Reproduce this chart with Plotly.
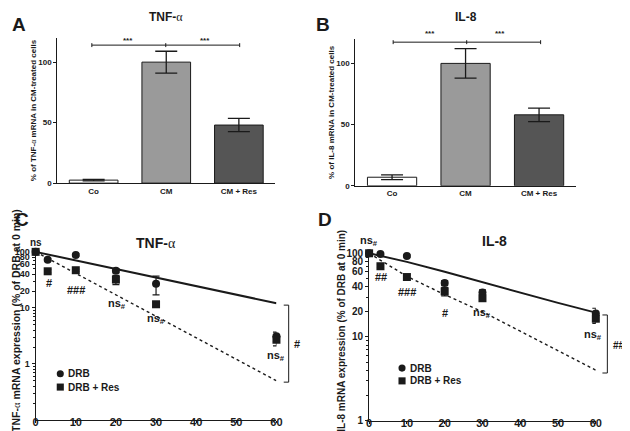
import plotly.graph_objects as go

W, H = 630, 431

# ---------------- data ----------------
bar_categories = ["Co", "CM", "CM + Res"]
tnf_bar_values = [2.5, 100, 48]
tnf_bar_errors = [0.6, 9, 5.5]
il8_bar_values = [7, 100, 58]
il8_bar_errors = [2, 12, 5.5]
bar_colors = ["#ffffff", "#9a9a9a", "#555555"]
bar_tick_vals = [0, 50, 100]

time_min = [0, 3, 10, 20, 30, 60]
tnf_drb = [100, 72, 88, 46, 27, 3.1]
tnf_drb_err = [0, 4, 4, 4, 10, 0.6]
tnf_drb_res = [100, 45, 47, 32, 11.6, 2.7]
tnf_drb_res_err = [0, 3, 2, 6, 1, 0.6]
il8_drb = [100, 98, 93, 44, 34, 19]
il8_drb_err = [0, 2, 3, 3, 2.5, 3]
il8_drb_res = [100, 70, 52, 35, 29, 16.5]
il8_drb_res_err = [0, 3, 3, 4, 2, 2]

tnf_fit_time = [0, 60]
tnf_fit_drb = [100, 12.1]
tnf_fit_drb_res = [100, 0.5]
il8_fit_time = [0, 10, 20, 30, 40, 50, 60]
il8_fit_drb = [100, 79, 60, 45, 33.5, 25.5, 19.5]
il8_fit_drb_res = [100, 53, 32, 20, 11.7, 6.8, 4.0]

series_names = ["DRB", "DRB + Res"]
time_tick_vals = [0, 10, 20, 30, 40, 50, 60]
log_tick_vals = [1, 10, 20, 40, 60, 80, 100]
log_minor_vals = [0.2, 0.3, 0.4, 0.5, 0.6, 0.7, 0.8, 0.9,
                  2, 3, 4, 5, 6, 7, 8, 9, 30, 50, 70, 90]

# ---------------- helpers ----------------
FONT = "Liberation Sans, Arial, sans-serif"
INK = "#1a1a1a"
ALPHA = '<span style="font-family:Liberation Serif;font-weight:normal">α</span>'


def px(x):
    return x / W


def py(y):
    return 1 - y / H


def dom_x(a, b):
    return [px(a), px(b)]


def dom_y(top, bottom):
    return [py(bottom), py(top)]


fig = go.Figure()

# ---------------- bar panels ----------------
for xa, ya, vals, errs in [("x", "y", tnf_bar_values, tnf_bar_errors),
                           ("x2", "y2", il8_bar_values, il8_bar_errors)]:
    fig.add_trace(go.Bar(
        x=bar_categories, y=vals, xaxis=xa, yaxis=ya, width=0.67,
        marker=dict(color=bar_colors, line=dict(color=INK, width=1)),
        error_y=dict(type="data", array=errs, color=INK, thickness=1.3, width=11),
        showlegend=False))


# ---------------- decay panels ----------------
def decay(xa, ya, fit_t, fit_a, fit_b, a, a_err, b, b_err):
    fig.add_trace(go.Scatter(x=fit_t, y=fit_a, xaxis=xa, yaxis=ya, mode="lines",
                             line=dict(color=INK, width=2), showlegend=False))
    fig.add_trace(go.Scatter(x=fit_t, y=fit_b, xaxis=xa, yaxis=ya, mode="lines",
                             line=dict(color=INK, width=1.4, dash="dot"), showlegend=False))
    fig.add_trace(go.Scatter(x=time_min, y=a, xaxis=xa, yaxis=ya, mode="markers",
                             name=series_names[0], showlegend=False, cliponaxis=False,
                             marker=dict(symbol="circle", size=8, color=INK),
                             error_y=dict(type="data", array=a_err, color=INK,
                                          thickness=1.2, width=3.5)))
    fig.add_trace(go.Scatter(x=time_min, y=b, xaxis=xa, yaxis=ya, mode="markers",
                             name=series_names[1], showlegend=False, cliponaxis=False,
                             marker=dict(symbol="square", size=8, color=INK),
                             error_y=dict(type="data", array=b_err, color=INK,
                                          thickness=1.2, width=3.5)))


decay("x3", "y3", tnf_fit_time, tnf_fit_drb, tnf_fit_drb_res,
      tnf_drb, tnf_drb_err, tnf_drb_res, tnf_drb_res_err)
decay("x4", "y4", il8_fit_time, il8_fit_drb, il8_fit_drb_res,
      il8_drb, il8_drb_err, il8_drb_res, il8_drb_res_err)

# ---------------- axes ----------------
common = dict(showline=True, linecolor=INK, linewidth=1, showgrid=False,
              zeroline=False, fixedrange=True)


def bar_x(domain, anchor):
    return dict(common, domain=domain, anchor=anchor, type="category",
                range=[-0.5, 2.5], ticks="",
                tickfont=dict(family=FONT, size=8, color=INK, weight="bold"))


def bar_y(domain, anchor, title):
    return dict(common, domain=domain, anchor=anchor, range=[0, 120],
                tickvals=bar_tick_vals, ticks="outside", ticklen=3, tickcolor=INK,
                tickfont=dict(family=FONT, size=8, color=INK, weight="bold"),
                title=dict(text=title, standoff=0,
                           font=dict(family=FONT, size=8, color=INK, weight="bold")))


def time_x(domain, anchor, size):
    return dict(common, domain=domain, anchor=anchor, range=[0, 60],
                tickvals=time_tick_vals, ticks="outside", ticklen=2, tickcolor=INK,
                ticklabelstandoff=-10,
                tickfont=dict(family=FONT, size=size, color=INK, weight="bold"))


def log_y(domain, anchor, rng, size):
    return dict(common, domain=domain, anchor=anchor, type="log", range=rng,
                tickvals=log_tick_vals, ticktext=[str(v) for v in log_tick_vals],
                ticks="outside", ticklen=3, tickcolor=INK,
                minor=dict(tickvals=log_minor_vals, ticks="outside", ticklen=2,
                           tickcolor=INK),
                tickfont=dict(family=FONT, size=size, color=INK, weight="bold"))


fig.update_layout(
    xaxis=bar_x(dom_x(47, 268), "y"),
    yaxis=bar_y(dom_y(28.4, 176), "x", "% of TNF-" + ALPHA + " mRNA in CM-treated cells"),
    xaxis2=bar_x(dom_x(349.3, 573), "y2"),
    yaxis2=bar_y(dom_y(29.4, 178.7), "x2", "% of IL-8 mRNA in CM-treated cells"),
    xaxis3=time_x(dom_x(25, 269.3), "y3", 11),
    yaxis3=log_y(dom_y(243, 416.7), "x3", [-1, 2.05], 9),
    xaxis4=time_x(dom_x(363.3, 593.3), "y4", 11),
    yaxis4=log_y(dom_y(243.9, 417.3), "x4", [0, 2.04], 10),
)

# ---------------- text annotations ----------------
annotations = []
shapes = []


def ann(text, x, y, size, **kw):
    annotations.append(dict(text=text, x=px(x), y=py(y), xref="paper", yref="paper",
                            showarrow=False, xanchor=kw.pop("xanchor", "center"),
                            yanchor=kw.pop("yanchor", "middle"),
                            font=dict(family=FONT, size=size, color=INK, weight="bold"),
                            **kw))


def seg(x0, y0, x1, y1, w=1):
    shapes.append(dict(type="line", xref="paper", yref="paper",
                       x0=px(x0), y0=py(y0), x1=px(x1), y1=py(y1),
                       line=dict(color=INK, width=w)))


# y-axis titles of the decay panels (rotated text, starting at the bottom edge)
ann("TNF-" + ALPHA + " mRNA expression (% of DRB at 0 min)", 5, 430.5, 10.5,
    textangle=-90, yanchor="bottom")
ann("IL-8 mRNA expression (% of DRB at 0 min)", 335, 430.5, 10,
    textangle=-90, yanchor="bottom")


# legend keys (circle / square) with their labels
def legend_key(kind, x, y, label, r=3.6):
    shapes.append(dict(type=kind, xref="paper", yref="paper",
                       x0=px(x - r), x1=px(x + r), y0=py(y + r), y1=py(y - r),
                       fillcolor=INK, line=dict(color=INK, width=0)))
    ann(label, x + 6, y, 10, xanchor="left")


legend_key("circle", 50, 369.7, series_names[0])
legend_key("rect", 50, 383.3, series_names[1])
legend_key("circle", 396.7, 364, series_names[0])
legend_key("rect", 396.7, 377, series_names[1])

# panel letters
ann("A", 8, 15, 19)
ann("B", 317, 15, 19)
ann("C", 11, 213, 19)
ann("D", 319, 213, 19)
# titles
ann("TNF-" + ALPHA, 157, 7, 12)
ann("IL-8", 462, 7, 12)
ann("TNF-" + ALPHA, 147, 237, 14)
ann("IL-8", 490, 235, 14)
# significance stars (bar panels)
ann("***", 118.3, 30.5, 8)
ann("***", 196.7, 30.5, 8)
ann("***", 425, 24, 8)
ann("***", 495.7, 24, 8)
# panel C marks
ann("ns", 25, 236.5, 10)
ann("#", 38.3, 278, 11)
ann("###", 65.7, 284.5, 11)
ann("ns<sub>#</sub>", 107.3, 298.5, 11)
ann("ns<sub>#</sub>", 146.7, 314, 11)
ann("ns<sub>#</sub>", 269.3, 351.5, 11)
ann("#", 290, 340, 11)
# panel D marks
ann("ns<sub>#</sub>", 363.3, 234.5, 11)
ann("##", 375, 271.7, 11)
ann("###", 401.7, 286.7, 11)
ann("#", 440, 308.3, 11)
ann("ns<sub>#</sub>", 478.3, 308.3, 11)
ann("ns<sub>#</sub>", 590, 330.7, 11)
ann("###", 619.5, 341, 10)

# ---------------- brackets ----------------
for y, xs in [(35.7, (82, 157, 232)), (32.7, (387.7, 462.3, 537.3))]:
    seg(xs[0], y, xs[2], y)
    for x in xs:
        seg(x, y - 2, x, y + 2)

for x, top, bot in [(281.7, 300, 378.3), (605, 310, 369)]:
    seg(x, top, x, bot)
    seg(x - 5, top, x, top)
    seg(x - 5, bot, x, bot)

fig.update_layout(
    width=W, height=H, margin=dict(l=0, r=0, t=0, b=0),
    paper_bgcolor="white", plot_bgcolor="white", showlegend=False,
    font=dict(family=FONT, color=INK),
    annotations=annotations, shapes=shapes, bargap=0.33,
)

fig.write_html("out.html")
